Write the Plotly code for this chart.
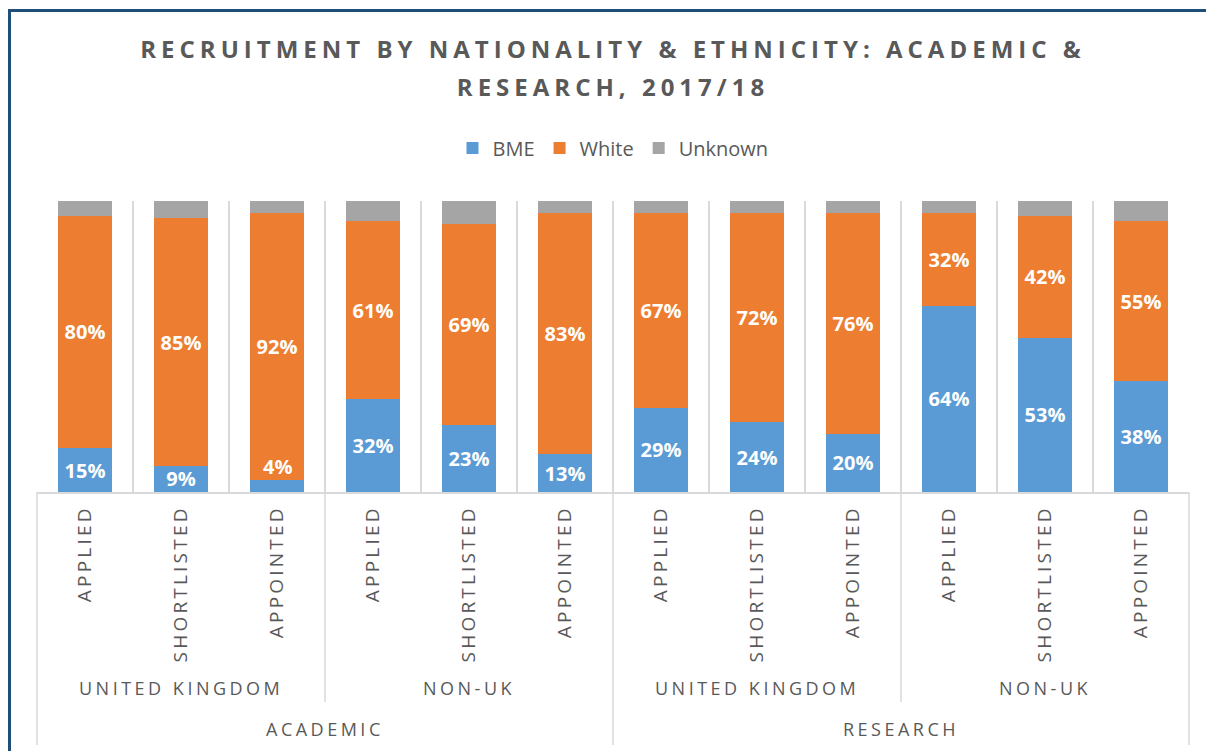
import plotly.graph_objects as go

# ---- data ----
groups = ["ACADEMIC"] * 6 + ["RESEARCH"] * 6
nationality = ["UNITED KINGDOM"] * 3 + ["NON-UK"] * 3 + ["UNITED KINGDOM"] * 3 + ["NON-UK"] * 3
stages = ["APPLIED", "SHORTLISTED", "APPOINTED"] * 4
bme = [15, 9, 4, 32, 23, 13, 29, 24, 20, 64, 53, 38]
white = [80, 85, 92, 61, 69, 83, 67, 72, 76, 32, 42, 55]
unknown = [5, 6, 4, 7, 8, 4, 4, 4, 4, 4, 5, 7]

series = [("BME", bme, "#5B9BD5"), ("White", white, "#ED7D31"), ("Unknown", unknown, "#A5A5A5")]

TXT = "#595959"
GRID = "#D9D9D9"
FONT = "Open Sans"
N = len(stages)
xs = list(range(N))

# page has an 8px body margin: figure is drawn 8px in from the top-left
W, H = 1206, 743
ML, MT, PW, PH = 29, 193, 1152, 291


def spaced(s, ls):
    return f'<span style="letter-spacing:{ls}px">{s}</span>'


fig = go.Figure()
for name, vals, col in series:
    if name == "Unknown":
        txt = ["" for v in vals]
    else:
        txt = [f"{v}%" if v >= 6 else "" for v in vals]
    fig.add_trace(go.Bar(
        x=xs, y=vals, name=name, marker=dict(color=col, line=dict(width=0)),
        text=txt, textposition="inside", insidetextanchor="middle", textangle=0,
        constraintext="none",
        insidetextfont=dict(family=FONT, size=20, color="white", weight="bold"),
        hoverinfo="name+y",
    ))

# small BME values: label just above the segment
for i, v in enumerate(bme):
    if v < 6:
        fig.add_annotation(x=i, y=v, text=f"{v}%", showarrow=False, yanchor="bottom", yshift=-2,
                           font=dict(family=FONT, size=20, color="white", weight="bold"))


def py(p):
    return -(p) / PH


# category separators below the axis
for k in range(N + 1):
    if k % 6 == 0:
        y1 = py(253)
    elif k % 3 == 0:
        y1 = py(210)
    else:
        continue
    fig.add_shape(type="line", xref="paper", yref="paper", x0=k / N, x1=k / N, y0=0, y1=y1,
                  line=dict(color=GRID, width=1.5))

# nationality labels
for start in range(0, N, 3):
    fig.add_annotation(x=start + 1, xref="x", y=py(196), yref="paper", text=spaced(nationality[start], 3.5),
                       showarrow=False, font=dict(family=FONT, size=18, color=TXT), yanchor="middle")
# group labels
for start in range(0, N, 6):
    fig.add_annotation(x=start + 2.5, xref="x", y=py(237), yref="paper", text=spaced(groups[start], 3.5),
                       showarrow=False, font=dict(family=FONT, size=18, color=TXT), yanchor="middle")

# outer frame
fig.add_shape(type="rect", xref="paper", yref="paper", x0=-27.5 / PW, x1=1.2, y0=-1.5,
              y1=(291 + 192 - 9.5 + 8) / PH,
              line=dict(color="#1F4E79", width=3), layer="below")

title_text = ('<span style="font-size:24px;letter-spacing:5px">'
              'RECRUITMENT BY NATIONALITY &amp; ETHNICITY: ACADEMIC &amp;</span><br>'
              '<span style="font-size:24px;letter-spacing:5px">RESEARCH, 2017/18</span>')

fig.update_layout(
    width=W, height=H,
    margin=dict(l=ML, r=W - ML - PW, t=MT, b=H - MT - PH, pad=0),
    paper_bgcolor="white", plot_bgcolor="white",
    barmode="stack", bargap=0.4375,
    title=dict(text=title_text, x=0.5, xanchor="center", xref="paper",
               y=1 - 50 / H, yref="container", yanchor="top",
               font=dict(family=FONT, size=29, color=TXT, weight="bold")),
    legend=dict(orientation="h", x=0.5, xanchor="center", y=(MT + PH - 140) / PH, yanchor="middle",
                font=dict(family=FONT, size=20, color=TXT), traceorder="normal",
                itemwidth=30, bgcolor="rgba(0,0,0,0)"),
    font=dict(family=FONT, color=TXT),
    showlegend=True,
)
fig.update_xaxes(
    range=[-0.5, N - 0.5], tickmode="array", tickvals=xs,
    ticktext=[spaced(s, 3.2) for s in stages], tickangle=-90,
    tickfont=dict(family=FONT, size=19, color=TXT), ticks="", ticklabelstandoff=4,
    showgrid=False, zeroline=False,
    showline=True, linecolor=GRID, linewidth=1.5,
    minor=dict(tickmode="array", tickvals=[i - 0.5 for i in range(N + 1)], showgrid=True,
               gridcolor=GRID, gridwidth=1.5, ticks=""),
)
fig.update_yaxes(range=[0, 100], visible=False, showgrid=False, zeroline=False, fixedrange=True)

fig.write_html("out.html")
